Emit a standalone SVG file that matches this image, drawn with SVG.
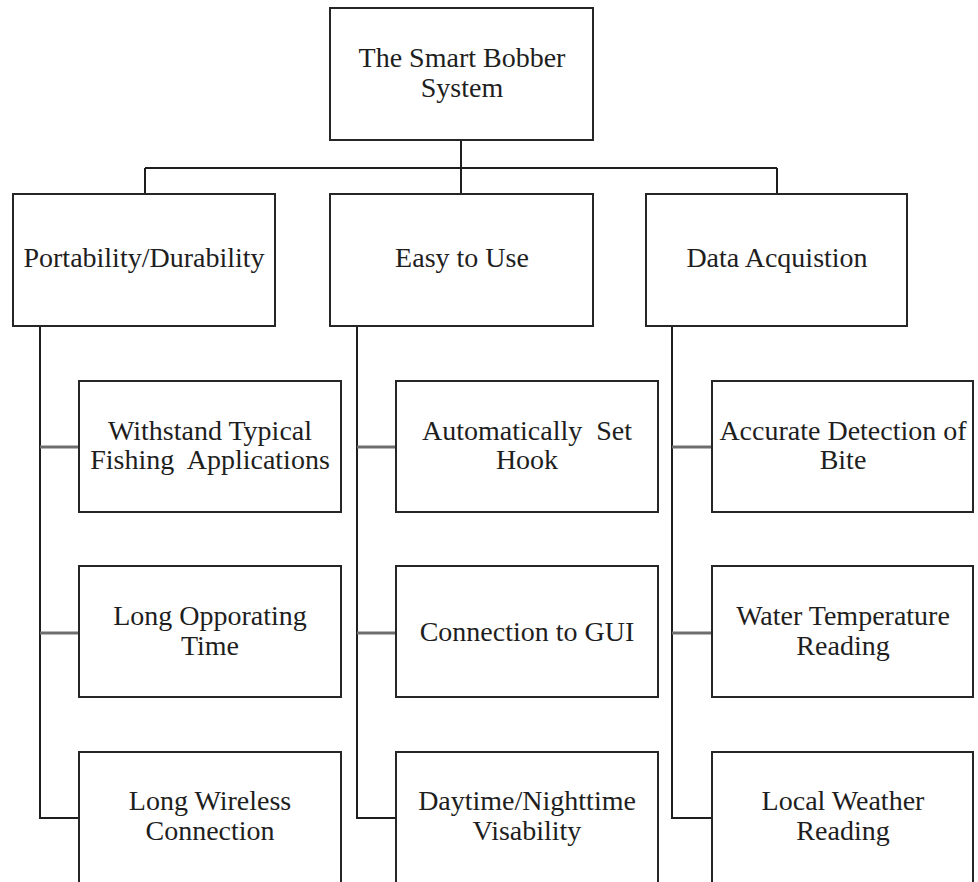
<svg xmlns="http://www.w3.org/2000/svg" width="978" height="882" viewBox="0 0 978 882">
  <style>
    .box { fill: #ffffff; stroke: #262626; stroke-width: 2; }
    .lbl { font-family: "Liberation Serif", "Times New Roman", serif; font-size: 28px; fill: #1e1e1e; text-anchor: middle; white-space: pre; }
    .tree { fill: none; stroke: #1e1e1e; stroke-width: 2; }
    .stub { fill: none; stroke: #6e6e6e; stroke-width: 3; }
  </style>
  <rect x="0" y="0" width="978" height="882" fill="#ffffff"/>

  <!-- connectors -->
  <g id="connectors">
    <path class="tree" d="M461 140 V194 M145 168 H777 M145 168 V194 M777 168 V194"/>
    <path class="tree" d="M40 326 V818 H79 M357 326 V818 H396 M672 326 V818 H712"/>
    <path class="stub" d="M40 447 H79 M40 633 H79 M357 447 H396 M357 633 H396 M672 447 H712 M672 633 H712"/>
  </g>

  <!-- root -->
  <g id="root">
    <rect class="box" x="330" y="8" width="263" height="132"/>
    <text class="lbl" x="462" y="67">The Smart Bobber</text>
    <text class="lbl" x="462" y="97">System</text>
  </g>

  <!-- categories -->
  <g id="portability">
    <rect class="box" x="13" y="194" width="262" height="132"/>
    <text class="lbl" x="144" y="267">Portability/Durability</text>
  </g>
  <g id="easy">
    <rect class="box" x="330" y="194" width="263" height="132"/>
    <text class="lbl" x="462" y="267">Easy to Use</text>
  </g>
  <g id="data">
    <rect class="box" x="646" y="194" width="261" height="132"/>
    <text class="lbl" x="777" y="267">Data Acquistion</text>
  </g>

  <!-- portability items -->
  <g id="withstand">
    <rect class="box" x="79" y="381" width="262" height="131"/>
    <text class="lbl" x="210" y="440">Withstand Typical</text>
    <text class="lbl" x="210" y="469">Fishing  Applications</text>
  </g>
  <g id="operating">
    <rect class="box" x="79" y="566" width="262" height="131"/>
    <text class="lbl" x="210" y="625">Long Opporating</text>
    <text class="lbl" x="210" y="655">Time</text>
  </g>
  <g id="wireless">
    <rect class="box" x="79" y="752" width="262" height="134"/>
    <text class="lbl" x="210" y="810">Long Wireless</text>
    <text class="lbl" x="210" y="840">Connection</text>
  </g>

  <!-- ease-of-use items -->
  <g id="hook">
    <rect class="box" x="396" y="381" width="262" height="131"/>
    <text class="lbl" x="527" y="440">Automatically  Set</text>
    <text class="lbl" x="527" y="469">Hook</text>
  </g>
  <g id="gui">
    <rect class="box" x="396" y="566" width="262" height="131"/>
    <text class="lbl" x="527" y="641">Connection to GUI</text>
  </g>
  <g id="visibility">
    <rect class="box" x="396" y="752" width="262" height="134"/>
    <text class="lbl" x="527" y="810">Daytime/Nighttime</text>
    <text class="lbl" x="527" y="840">Visability</text>
  </g>

  <!-- data items -->
  <g id="bite">
    <rect class="box" x="712" y="381" width="261" height="131"/>
    <text class="lbl" x="843" y="440">Accurate Detection of</text>
    <text class="lbl" x="843" y="469">Bite</text>
  </g>
  <g id="temperature">
    <rect class="box" x="712" y="566" width="261" height="131"/>
    <text class="lbl" x="843" y="625">Water Temperature</text>
    <text class="lbl" x="843" y="655">Reading</text>
  </g>
  <g id="weather">
    <rect class="box" x="712" y="752" width="261" height="134"/>
    <text class="lbl" x="843" y="810">Local Weather</text>
    <text class="lbl" x="843" y="840">Reading</text>
  </g>
</svg>
